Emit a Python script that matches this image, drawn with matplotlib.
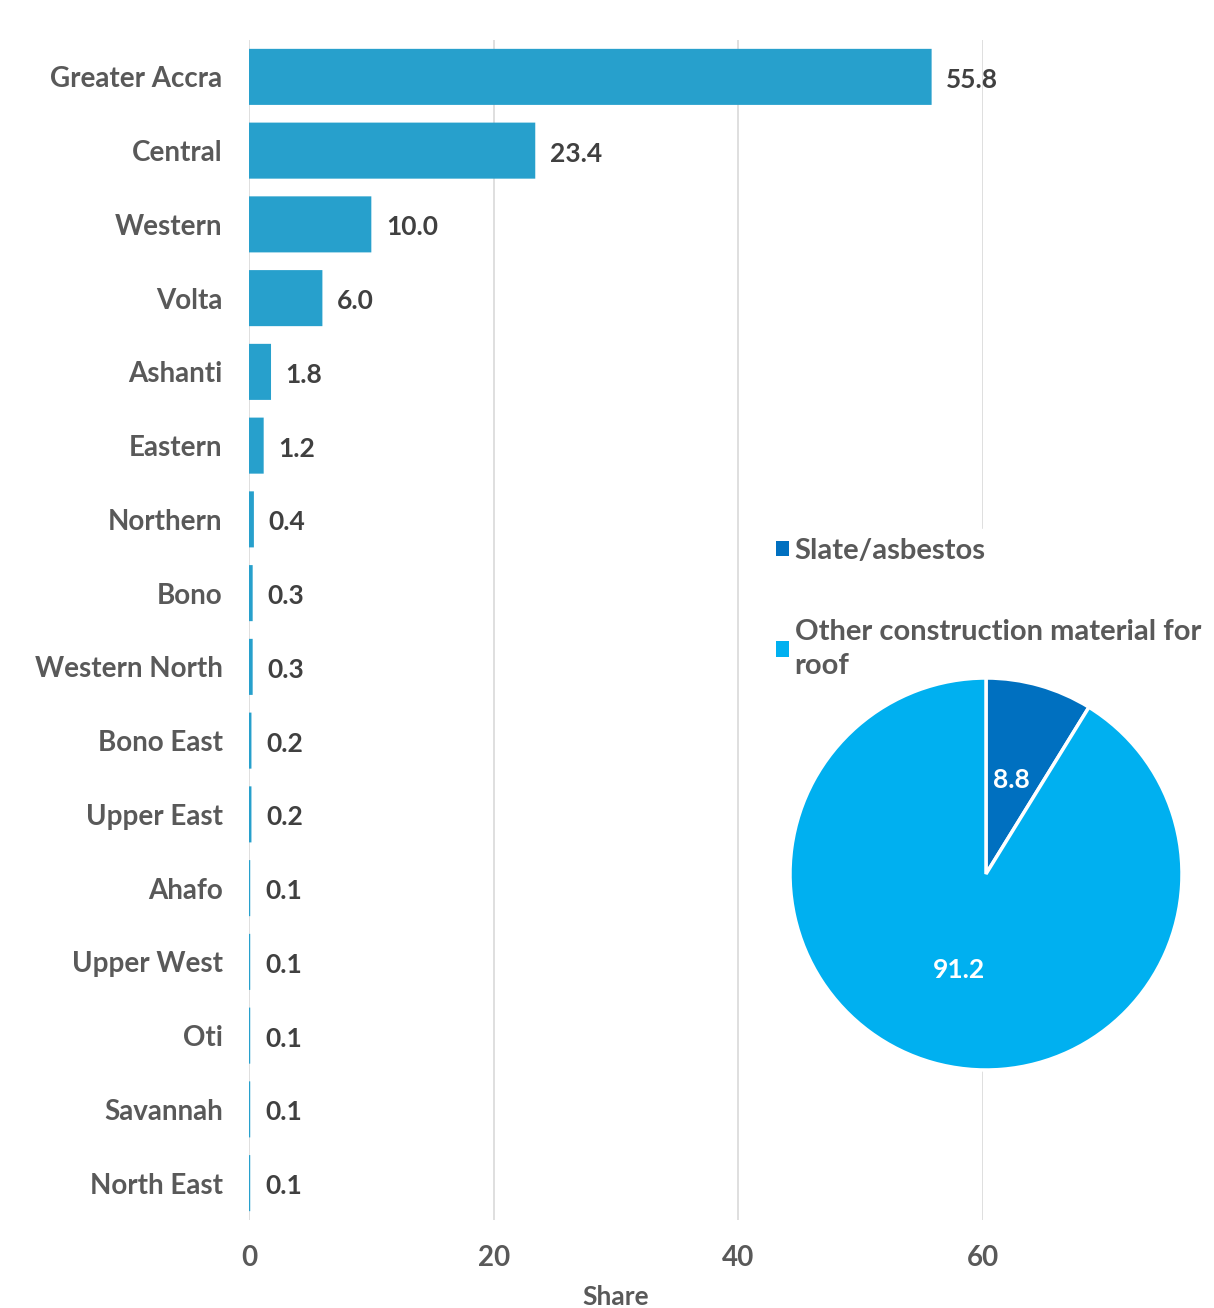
import matplotlib
matplotlib.use("Agg")
import matplotlib.pyplot as plt

regions = ["Greater Accra", "Central", "Western", "Volta", "Ashanti", "Eastern",
           "Northern", "Bono", "Western North", "Bono East", "Upper East",
           "Ahafo", "Upper West", "Oti", "Savannah", "North East"]
shares = [55.8, 23.4, 10.0, 6.0, 1.8, 1.2, 0.4, 0.3, 0.3, 0.2, 0.2, 0.1, 0.1, 0.1, 0.1, 0.1]
x_ticks = [0, 20, 40, 60]
x_label = "Share"

pie_labels = ["Slate/asbestos", "Other construction material for\nroof"]
pie_values = [8.8, 91.2]
pie_colors = ["#0070C0", "#00B0F0"]
bar_color = "#27A0CC"

plt.rcParams['font.family'] = ['Lato', 'DejaVu Sans']

fig = plt.figure(figsize=(12.14, 13.08), dpi=100)
ax = fig.add_axes([249/1214, 1-1220/1308, (983-249)/1214, (1220-40)/1308])

y = list(range(len(regions)))
ax.barh(y, shares, height=0.76, color=bar_color, edgecolor='none', linewidth=0,
        zorder=2, snap=False)
ax.set_ylim(len(regions)-0.5, -0.5)
ax.set_xlim(0, 60)
ax.set_yticks(y)
ax.set_yticklabels(regions, fontsize=20, fontweight='bold', color='#595959')
ax.set_xticks(x_ticks)
ax.set_xticklabels([str(t) for t in x_ticks], fontsize=20, fontweight='bold', color='#595959')
ax.tick_params(axis='both', length=0)
ax.tick_params(axis='y', pad=19)
ax.tick_params(axis='x', pad=18)
ax.set_xlabel(x_label, fontsize=19, fontweight='bold', color='#595959', labelpad=10)
ax.grid(axis='x', color='#D9D9D9', linewidth=1.2, zorder=0)
for s in ax.spines.values():
    s.set_visible(False)
for yi, v in zip(y, shares):
    ax.text(v + 1.2, yi + 0.04, f"{v:.1f}", va='center', ha='left', fontsize=19,
            fontweight='bold', color='#404040', zorder=3, clip_on=False)

# pie
r = 196
pax = fig.add_axes([(986-r)/1214, 1-(874+r)/1308, 2*r/1214, 2*r/1308])
wedges, _ = pax.pie(pie_values, colors=pie_colors, startangle=90, counterclock=False,
                    wedgeprops=dict(edgecolor='white', linewidth=2.5))
pax.set_xlim(-1, 1)
pax.set_ylim(-1, 1)
pax.set_aspect('equal')
pax.axis('off')
pax.set_zorder(10)
pax.text(0.13, 0.48, f"{pie_values[0]:.1f}", ha='center', va='center', fontsize=19,
         fontweight='bold', color='white')
pax.text(-0.14, -0.49, f"{pie_values[1]:.1f}", ha='center', va='center', fontsize=19,
         fontweight='bold', color='white')

leg = fig.legend(wedges, pie_labels, loc='upper left',
                 bbox_to_anchor=(767/1214, 1-529/1308), frameon=True,
                 facecolor='white', edgecolor='white', framealpha=1,
                 handlelength=0.45, handleheight=0.45, handletextpad=0.2,
                 labelspacing=1.9, borderpad=0.3, borderaxespad=0,
                 prop=dict(size=21, weight='bold'))
for t in leg.get_texts():
    t.set_color('#595959')
    t.set_linespacing(1.35)
for h in leg.legend_handles:
    h.set_edgecolor('none')

fig.savefig("out.png", dpi=100, facecolor='white')
